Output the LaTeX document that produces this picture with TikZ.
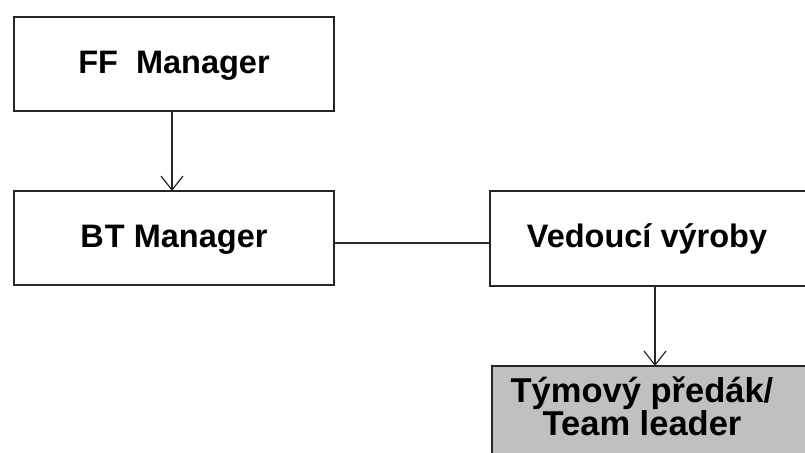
\documentclass[tikz,border=0pt]{standalone}
\usepackage{fontspec}
\setmainfont{Liberation Sans}
\usetikzlibrary{arrows.meta}
\definecolor{boxgray}{HTML}{C0C0C0}
\tikzset{
  orgbox/.style={draw=black!85, line width=1.4pt, fill=white},
  lbl/.style={font=\fontsize{32.5}{33}\selectfont\bfseries, align=center, inner sep=0pt},
  biglbl/.style={lbl, font=\fontsize{34.5}{33}\selectfont\bfseries},
  link/.style={draw=black!85, line width=1.2pt},
  arr/.style={link, -{Straight Barb[length=14pt,width=22pt,line width=1.2pt]}},
}
\begin{document}
\begin{tikzpicture}[x=1pt,y=-1pt]
\useasboundingbox (0,0) rectangle (805,452);
\clip (0,0) rectangle (805,452);
% boxes
\draw[orgbox] (14,17) rectangle (334,111);
\draw[orgbox] (14,191) rectangle (334,285);
\draw[orgbox] (490,191) rectangle (820,286);
\draw[orgbox, fill=boxgray] (492,366) rectangle (820,470);
% anchor points on the box edges
\coordinate (ffB) at (172,111);
\coordinate (btT) at (172,191);
\coordinate (btR) at (334,243);
\coordinate (vyL) at (490,243);
\coordinate (vyB) at (655,286);
\coordinate (tlT) at (655,366);
% labels
\node[lbl, anchor=base] (ff) at (174,74) {FF\ \ Manager};
\node[lbl, anchor=base] (bt) at (174,247) {B\kern1ptT Manager};
\node[lbl, anchor=base] (vy) at (647,247) {Vedoucí výroby};
\node[biglbl, anchor=base] (tl1) at (642,402) {Týmový předák/};
\node[biglbl, anchor=base] (tl2) at (642,435) {Team leader};
% connectors
\draw[arr] (ffB) -- (btT);
\draw[link] (btR) -- (vyL);
\draw[arr] (vyB) -- (tlT);
\end{tikzpicture}
\end{document}
